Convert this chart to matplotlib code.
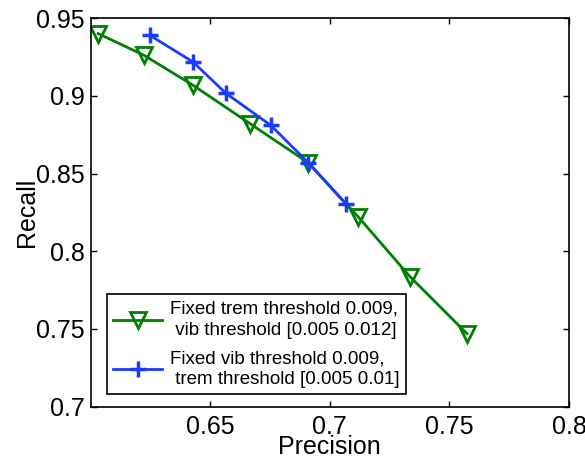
import matplotlib
matplotlib.use("Agg")
import matplotlib.pyplot as plt

plt.rcParams['font.family'] = ['Liberation Sans', 'DejaVu Sans']

# Green series: fixed trem threshold, varying vib threshold
green_precision = [0.6031, 0.6223, 0.6428, 0.6666, 0.6910, 0.7119, 0.7336, 0.7573]
green_recall = [0.9402, 0.9262, 0.9069, 0.8822, 0.8570, 0.8221, 0.7835, 0.7470]

# Blue series: fixed vib threshold, varying trem threshold
blue_precision = [0.6247, 0.6428, 0.6564, 0.6753, 0.6910, 0.7068]
blue_recall = [0.9391, 0.9219, 0.9019, 0.8811, 0.8570, 0.8303]

green_label = "Fixed trem threshold 0.009,\n vib threshold [0.005 0.012]"
blue_label = "Fixed vib threshold 0.009,\n trem threshold [0.005 0.01]"

xticks = [0.65, 0.7, 0.75, 0.8]
xticklabels = ["0.65", "0.7", "0.75", "0.8"]
yticks = [0.7, 0.75, 0.8, 0.85, 0.9, 0.95]
yticklabels = ["0.7", "0.75", "0.8", "0.85", "0.9", "0.95"]

fig = plt.figure(figsize=(5.85, 4.57), dpi=100)
ax = fig.add_axes([0.1550, 0.1105, 0.8176, 0.8494])

green = '#008000'
blue = '#1a3cff'

ax.plot(green_precision, green_recall, color=green, lw=2.0, marker='v',
        markersize=12, markerfacecolor='none', markeredgecolor=green,
        markeredgewidth=2.0, label=green_label)
ax.plot(blue_precision, blue_recall, color=blue, lw=2.0, marker='+',
        markersize=11, markeredgewidth=2.5, label=blue_label)

ax.set_xlim(0.6, 0.8)
ax.set_ylim(0.7, 0.95)
ax.set_xticks(xticks)
ax.set_xticklabels(xticklabels)
ax.set_yticks(yticks)
ax.set_yticklabels(yticklabels)
ax.tick_params(direction='in', top=True, right=True, labelsize=18, length=4,
               width=1.0)
ax.tick_params(axis='x', pad=6)
ax.tick_params(axis='y', pad=4)
for s in ax.spines.values():
    s.set_linewidth(1.2)

ax.set_xlabel("Precision", fontsize=18, labelpad=-3)
ax.set_ylabel("Recall", fontsize=18, labelpad=-2)

leg = ax.legend(loc='lower left', bbox_to_anchor=(0.0335, 0.031),
                borderaxespad=0, fontsize=13.5, handlelength=2.6,
                numpoints=1, fancybox=False, framealpha=1,
                edgecolor='black', labelspacing=0.6, handletextpad=0.4,
                borderpad=0.35)
for t in leg.get_texts():
    t.set_linespacing(1.3)
leg.get_frame().set_linewidth(1.2)

fig.savefig("out.png", dpi=100)
